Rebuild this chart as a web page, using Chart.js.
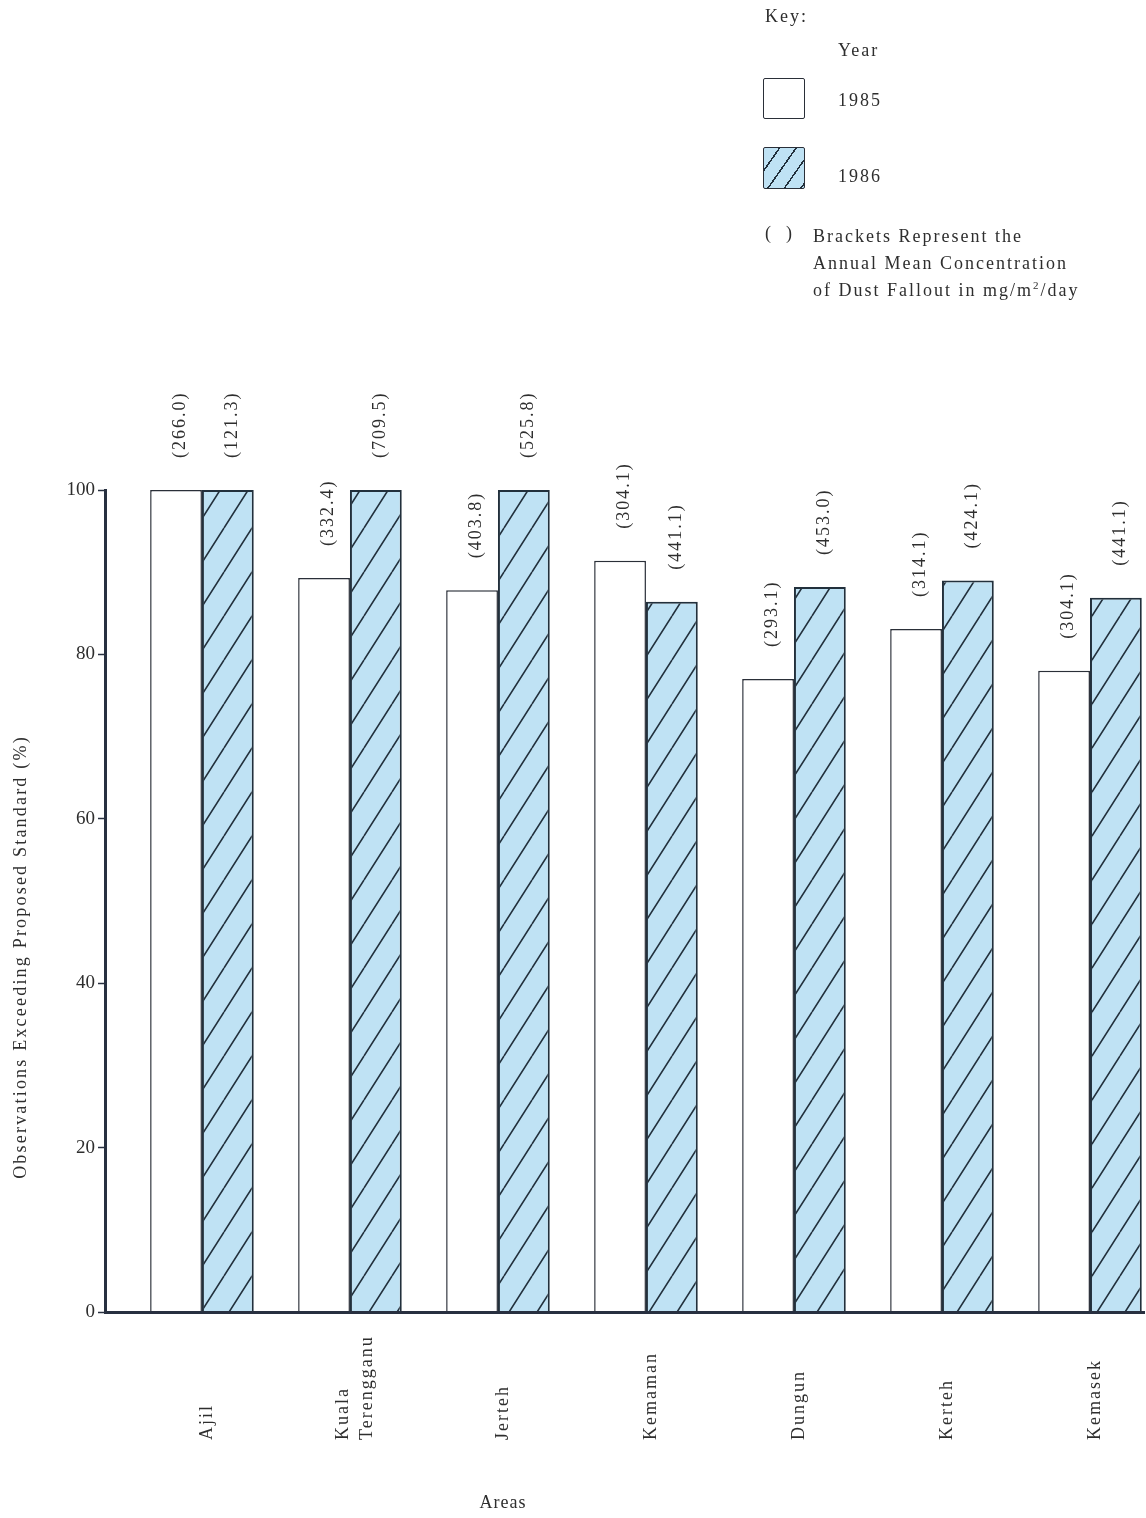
<!DOCTYPE html>
<html>
<head>
<meta charset="utf-8">
<script src="https://cdn.jsdelivr.net/npm/chart.js@4.4.1/dist/chart.umd.min.js"></script>
<style>
  body { margin: 0; background: #fff; }
  #wrap { position: relative; width: 1146px; height: 1518px; overflow: hidden;
          font-family: 'Liberation Serif', serif; color: #2e2e2e; }
  #wrap canvas { position: absolute; left: 0; top: 0; }
  .txt { position: absolute; font-size: 18px; letter-spacing: 2px; line-height: 20px; white-space: nowrap; }
  .box { position: absolute; border: 1.5px solid #2a2f38; border-radius: 2px; box-sizing: border-box; }
  .hatch { background-color: #bfe2f4;
           background-image: repeating-linear-gradient(125deg, transparent 0 12px, #22303c 12px 13.5px); }
  #ytitle { left: -220px; top: 947px; width: 480px; text-align: center; transform: rotate(-90deg);
            letter-spacing: 2.2px; }
</style>
</head>
<body>
<div id="wrap">
  <canvas id="chart" width="1146" height="1518"></canvas>

  <!-- key -->
  <div class="txt" style="left:765px; top:6px;">Key:</div>
  <div class="txt" style="left:838px; top:40px;">Year</div>
  <div class="box" style="left:763px; top:78px; width:42px; height:41px; background:#fff;"></div>
  <div class="txt" style="left:838px; top:90px;">1985</div>
  <div class="box hatch" style="left:763px; top:147px; width:42px; height:42px;"></div>
  <div class="txt" style="left:838px; top:166px;">1986</div>
  <div class="txt" style="left:765px; top:223px;">(&nbsp;&nbsp;)</div>
  <div class="txt" style="left:813px; top:223px; line-height:27px;">Brackets Represent the<br>Annual Mean Concentration<br>of Dust Fallout in mg/m<sup style="font-size:11px; line-height:0;">2</sup>/day</div>

  <div class="txt" id="ytitle">Observations Exceeding Proposed Standard (%)</div>
  <div class="txt" style="left:453px; top:1492px; width:100px; text-align:center; letter-spacing:1px;">Areas</div>
</div>

<script>
const areas = [["Ajil"], ["Kuala", "Terengganu"], ["Jerteh"], ["Kemaman"], ["Dungun"], ["Kerteh"], ["Kemasek"]];
const years = ["1985", "1986"];

// observations exceeding proposed standard (%)
const pct1985 = [100, 89.3, 87.8, 91.4, 77.0, 83.1, 78.0];
const pct1986 = [100, 100, 100, 86.4, 88.2, 89.0, 86.9];

// annual mean dust fallout (mg/m2/day), shown in brackets
const dust1985 = [266.0, 332.4, 403.8, 304.1, 293.1, 314.1, 304.1];
const dust1986 = [121.3, 709.5, 525.8, 441.1, 453.0, 424.1, 441.1];

const yTicks = [0, 20, 40, 60, 80, 100];

const ink = "#2e2e2e";
const axisInk = "#283040";

// diagonal hatch on light blue
function makeHatch() {
  const c = document.createElement("canvas");
  c.width = 28;
  c.height = 44;
  const g = c.getContext("2d");
  g.fillStyle = "#bfe2f4";
  g.fillRect(0, 0, 28, 44);
  g.strokeStyle = "#22303c";
  g.lineWidth = 1.6;
  g.beginPath();
  [-28, 0, 28].forEach(function (dx) {
    g.moveTo(dx, 44);
    g.lineTo(dx + 28, 0);
  });
  g.stroke();
  return g.createPattern(c, "repeat");
}

// bracketed concentrations above each bar
const bracketLabels = {
  id: "bracketLabels",
  afterDatasetsDraw(chart) {
    const ctx = chart.ctx;
    const sets = [dust1985, dust1986];
    ctx.save();
    ctx.font = "18px 'Liberation Serif'";
    ctx.letterSpacing = "2px";
    ctx.fillStyle = ink;
    ctx.textAlign = "left";
    ctx.textBaseline = "middle";
    sets.forEach(function (vals, d) {
      chart.getDatasetMeta(d).data.forEach(function (bar, i) {
        ctx.save();
        ctx.translate(bar.x + 4, bar.y - 32);
        ctx.rotate(-Math.PI / 2);
        ctx.fillText("(" + vals[i].toFixed(1) + ")", 0, 0);
        ctx.restore();
      });
    });
    ctx.restore();
  },
};

// area names, rotated and bottom aligned
const areaLabels = {
  id: "areaLabels",
  afterDraw(chart) {
    const ctx = chart.ctx;
    const xs = chart.scales.x;
    const base = chart.chartArea.bottom + 128;
    ctx.save();
    ctx.font = "18px 'Liberation Serif'";
    ctx.letterSpacing = "2px";
    ctx.fillStyle = ink;
    ctx.textAlign = "left";
    ctx.textBaseline = "middle";
    areas.forEach(function (lines, i) {
      const cx = xs.getPixelForValue(i) + 5;
      lines.forEach(function (line, n) {
        ctx.save();
        ctx.translate(cx + (n - (lines.length - 1) / 2) * 24, base);
        ctx.rotate(-Math.PI / 2);
        ctx.fillText(line, 0, 0);
        ctx.restore();
      });
    });
    ctx.restore();
  },
};

Chart.defaults.font.family = "'Liberation Serif', serif";
Chart.defaults.color = ink;

const ctx = document.getElementById("chart").getContext("2d");
new Chart(ctx, {
  type: "bar",
  data: {
    datasets: [
      {
        label: years[0],
        data: pct1985.map((v, i) => ({ x: i, y: v })),
        backgroundColor: "#ffffff",
        borderColor: "#2a2f38",
        borderWidth: 1.5,
      },
      {
        label: years[1],
        data: pct1986.map((v, i) => ({ x: i, y: v })),
        backgroundColor: makeHatch(),
        borderColor: "#22303c",
        borderWidth: 2,
      },
    ],
  },
  options: {
    responsive: false,
    animation: false,
    layout: { padding: { top: 490, right: 2, left: 0, bottom: 0 } },
    datasets: {
      bar: { categoryPercentage: 0.7, barPercentage: 1 },
    },
    plugins: {
      legend: { display: false },
      tooltip: { enabled: false },
    },
    scales: {
      x: {
        type: "linear",
        min: -0.655,
        max: 6.365,
        bounds: "data",
        offset: false,
        // one tick per area, so bar widths follow the area spacing
        afterBuildTicks: function (s) {
          s.ticks = areas.map((a, i) => ({ value: i }));
          s.min = -0.655;
          s.max = 6.365;
        },
        ticks: { display: false },
        grid: { display: false, offset: false },
        border: { display: true, width: 3, color: axisInk, z: 1 },
        afterFit: function (s) { s.height = 206; },
      },
      y: {
        min: 0,
        max: 100,
        afterBuildTicks: function (s) { s.ticks = yTicks.map((v) => ({ value: v })); },
        ticks: { font: { size: 19 }, color: ink, padding: 3 },
        grid: { drawOnChartArea: false, tickLength: 7, tickColor: axisInk, tickWidth: 1.5 },
        border: { display: true, width: 3, color: axisInk, z: 1 },
        afterFit: function (s) { s.width = 105; },
      },
    },
  },
  plugins: [bracketLabels, areaLabels],
});
</script>
</body>
</html>
